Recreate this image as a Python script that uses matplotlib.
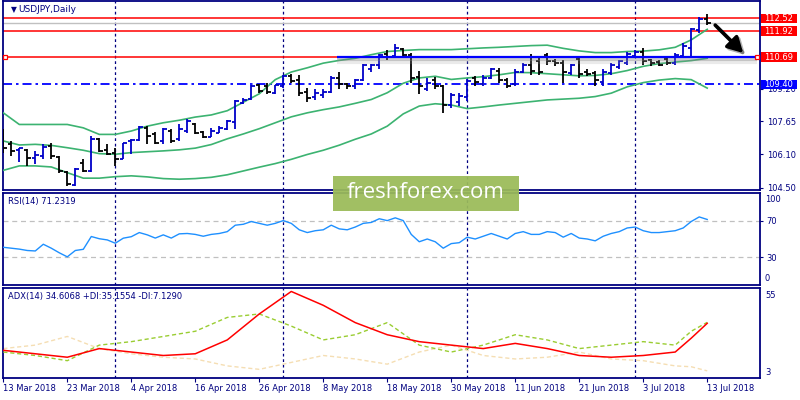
import numpy as np
import pandas as pd
import matplotlib
matplotlib.use("Agg")
import matplotlib.pyplot as plt
import matplotlib.patheffects as pe
from matplotlib.patches import Rectangle

plt.rcParams['font.family'] = ['DejaVu Sans']

# ---------------- data ----------------
dates = pd.bdate_range('2018-03-13', '2018-07-13')   # 89 daily bars

opens = [106.70, 106.59, 106.28, 106.28, 105.93, 106.01, 106.48, 105.98, 105.25, 104.63,
         105.70, 105.32, 106.80, 106.28, 106.17, 105.85, 106.72, 106.75, 107.34, 107.03,
         106.72, 107.19, 106.80, 107.19, 107.50, 107.15, 106.92, 107.10, 107.30, 107.60,
         108.50, 108.70, 109.35, 109.30, 109.00, 109.30, 109.80, 109.60, 109.05, 108.80,
         108.90, 109.05, 109.70, 109.40, 109.30, 109.60, 110.10, 110.30, 110.85, 110.75,
         111.05, 110.80, 109.75, 109.20, 109.60, 109.30, 108.40, 108.55, 108.80, 109.70,
         109.40, 109.70, 110.05, 109.60, 109.40, 110.00, 110.30, 110.50, 110.80, 110.50,
         110.40, 109.95, 110.60, 110.00, 109.95, 109.50, 109.95, 110.20, 110.40, 110.75,
         110.95, 110.55, 110.45, 110.60, 110.40, 110.75, 111.10, 111.95, 112.50]
highs = [107.30, 106.72, 106.40, 106.33, 106.25, 106.56, 106.61, 106.01, 105.30, 105.43,
         105.85, 106.95, 106.87, 106.56, 106.40, 106.64, 106.80, 107.42, 107.42, 107.16,
         107.34, 107.27, 107.50, 107.74, 107.58, 107.19, 107.32, 107.42, 107.71, 108.68,
         108.73, 109.39, 109.42, 109.47, 109.39, 109.86, 109.89, 109.86, 109.23, 109.16,
         109.16, 109.78, 110.00, 109.47, 109.63, 110.36, 110.36, 110.84, 111.00, 111.31,
         111.12, 110.88, 110.05, 109.70, 109.76, 109.39, 109.00, 109.00, 109.63, 109.78,
         109.86, 110.17, 110.15, 109.70, 110.10, 110.41, 110.81, 110.64, 110.88, 110.62,
         110.57, 110.38, 110.73, 110.10, 110.02, 110.10, 110.41, 110.57, 110.93, 111.04,
         111.12, 110.62, 110.57, 110.73, 110.88, 111.35, 112.06, 112.57, 112.72]
lows = [106.15, 106.01, 105.74, 105.54, 105.62, 105.85, 105.85, 105.22, 104.59, 104.59,
        105.27, 105.27, 106.21, 106.06, 105.54, 105.85, 106.09, 106.72, 106.56, 106.56,
        106.56, 106.64, 106.72, 107.11, 107.03, 106.84, 106.92, 107.08, 107.24, 107.27,
        108.45, 108.68, 109.00, 108.92, 108.95, 109.23, 109.47, 108.84, 108.57, 108.68,
        108.73, 109.00, 109.20, 109.16, 109.20, 109.55, 109.99, 110.10, 110.57, 110.73,
        110.73, 109.47, 108.92, 109.08, 109.20, 108.05, 108.29, 108.37, 108.60, 109.31,
        109.31, 109.63, 109.47, 109.23, 109.31, 109.94, 109.86, 109.86, 110.33, 110.25,
        109.47, 109.86, 109.70, 109.78, 109.31, 109.31, 109.86, 110.10, 110.33, 110.65,
        110.33, 110.25, 110.25, 110.33, 110.33, 110.65, 110.73, 111.83, 112.22]
closes = [106.40, 106.23, 106.37, 105.93, 106.04, 106.43, 106.01, 105.30, 104.67, 105.38,
          105.32, 106.83, 106.25, 106.09, 105.85, 106.61, 106.76, 107.38, 106.95, 106.64,
          107.27, 106.72, 107.27, 107.66, 107.11, 106.92, 107.20, 107.35, 107.65, 108.60,
          108.65, 109.30, 109.10, 109.05, 109.35, 109.80, 109.55, 109.00, 108.75, 109.00,
          109.05, 109.70, 109.40, 109.30, 109.60, 110.30, 110.30, 110.80, 110.70, 111.10,
          110.80, 109.70, 109.30, 109.45, 109.30, 108.40, 108.90, 108.85, 109.55, 109.50,
          109.70, 110.10, 109.60, 109.30, 110.00, 110.30, 110.05, 110.00, 110.50, 110.40,
          110.00, 110.30, 109.90, 109.90, 109.60, 110.00, 110.30, 110.50, 110.85, 110.95,
          110.50, 110.40, 110.30, 110.40, 110.80, 111.20, 112.00, 112.50, 112.28]

# Bollinger bands, read every second bar
band_idx = list(range(0, 89, 2))
bb_upper = [108.05, 107.50, 107.50, 107.50, 107.50, 107.34, 107.03, 107.03, 107.19, 107.42,
            107.58, 107.70, 107.85, 107.95, 108.15, 108.55, 108.95, 109.62, 109.98, 110.18,
            110.40, 110.53, 110.63, 110.80, 110.95, 111.00, 111.04, 111.04, 111.04, 111.08,
            111.12, 111.15, 111.19, 111.23, 111.25, 111.10, 110.98, 110.90, 110.90, 110.95,
            110.97, 111.03, 111.15, 111.50, 112.00]
bb_middle = [106.72, 106.53, 106.56, 106.51, 106.40, 106.28, 106.12, 106.09, 106.17, 106.21,
             106.25, 106.30, 106.38, 106.55, 106.82, 107.05, 107.30, 107.58, 107.86, 108.05,
             108.20, 108.33, 108.50, 108.68, 109.00, 109.45, 109.70, 109.78, 109.63, 109.70,
             109.76, 109.85, 109.96, 109.95, 109.90, 109.85, 109.80, 109.82, 109.90, 110.05,
             110.25, 110.38, 110.45, 110.52, 110.63]
bb_lower = [105.33, 105.54, 105.54, 105.49, 105.22, 104.96, 104.96, 105.03, 105.07, 105.02,
            104.94, 104.91, 104.94, 105.00, 105.12, 105.30, 105.48, 105.65, 105.85, 106.08,
            106.28, 106.52, 106.80, 107.05, 107.42, 108.00, 108.37, 108.48, 108.42, 108.25,
            108.33, 108.42, 108.50, 108.58, 108.66, 108.70, 108.74, 108.82, 108.98, 109.28,
            109.48, 109.60, 109.67, 109.62, 109.22]

rsi = [41, 40, 39, 37.5, 37, 44.3, 40, 35, 30.6, 37.5,
       38.8, 52.7, 50.3, 49, 45.4, 50.9, 52.5, 57, 54.5, 51,
       54.5, 51, 55.6, 56, 55, 53, 55, 56, 58, 65,
       66, 69, 67, 65, 67, 70, 67, 60, 57, 59,
       60, 65, 61, 60, 63, 67, 68, 72, 70, 73,
       70, 55, 47, 50, 47, 40, 45, 46, 52, 50,
       53, 56, 53, 50, 56, 58, 55, 55, 58, 57,
       52, 56, 51, 50, 48, 53, 56, 58, 62, 63,
       59, 57, 57, 58, 59, 62, 69, 74, 71.2319]

adx_idx = list(range(0, 85, 4)) + [86, 88]
adx = [19, 17, 15, 20, 18, 16, 17, 25, 40, 53, 45, 35, 28, 24, 22, 20, 23, 20, 16, 15, 16, 18, 26, 34.6068]
plus_di = [18, 16, 13, 22, 24, 27, 30, 38, 40, 33, 25, 28, 35, 22, 18, 22, 28, 25, 20, 22, 24, 22, 30, 35.1554]
minus_di = [20, 22, 27, 20, 17, 15, 14, 10, 8, 12, 16, 14, 11, 18, 22, 16, 14, 15, 18, 14, 13, 10, 9.5, 7.1290]

levels_red = [112.52, 111.92, 110.69]
level_blue = 109.40
price_ticks = [104.50, 106.10, 107.65, 109.20]

# ---------------- figure ----------------
W, H = 800, 400
NAVY = '#000080'
fig = plt.figure(figsize=(8, 4), dpi=100)
fig.patch.set_facecolor('white')

L, R = 2.5, 760
def axrect(top, bottom):
    return [L / W, 1 - bottom / H, (R - L) / W, (bottom - top) / H]

ax = fig.add_axes(axrect(1, 190))
ax_rsi = fig.add_axes(axrect(193, 285))
ax_adx = fig.add_axes(axrect(288, 378))

n = len(closes)
x = np.arange(n)
xlim = (-0.1, 94.6)

for a in (ax, ax_rsi, ax_adx):
    a.set_xlim(*xlim)
    for s in a.spines.values():
        s.set_color(NAVY)
        s.set_linewidth(1.3)
    a.tick_params(axis='both', colors=NAVY, labelcolor=NAVY, labelsize=6, length=2.5, width=0.8)
    a.yaxis.tick_right()
    # month separators
    months = dates.month
    for i in range(1, n):
        if months[i] != months[i - 1]:
            a.axvline(i, color=NAVY, lw=0.9, ls=(0, (2.2, 2.2)), zorder=1)

# ---- main price panel ----
ax.set_ylim(104.40, 113.34)
o = np.array(opens); h = np.array(highs); l = np.array(lows); c = np.array(closes)
cols = np.where(c >= o, '#0000C8', '#000000')
ax.vlines(x, l, h, colors=cols, lw=1.3, zorder=4)
ax.hlines(o, x - 0.42, x, colors=cols, lw=1.3, zorder=4)
ax.hlines(c, x, x + 0.42, colors=cols, lw=1.3, zorder=4)

for arr in (bb_upper, bb_middle, bb_lower):
    ax.plot(band_idx, arr, color='#3CB371', lw=1.2, zorder=3)

for lv in levels_red:
    ax.axhline(lv, color='#FF0000', lw=1.1, zorder=2)
ax.axhline(closes[-1], color='#C0C0C0', lw=1.0, zorder=1.5)
ax.axhline(level_blue, color='#0000FF', lw=1.3, ls=(0, (5, 2.2, 1.4, 2.2)), zorder=2)

# highlighted segment of the 110.69 level with shadow
seg_x = [41.75, 94.25]
ax.plot(seg_x, [levels_red[2]] * 2, color='#0000FF', lw=1.6, zorder=5, solid_capstyle='butt',
        path_effects=[pe.SimpleLineShadow(offset=(0, -1.5), shadow_color='#777777', alpha=0.35, linewidth=3),
                      pe.SimpleLineShadow(offset=(0, -3.5), shadow_color='#999999', alpha=0.2, linewidth=3),
                      pe.Normal()])
ax.plot([0.25, 94.25], [levels_red[2]] * 2, ls='none', marker='s', ms=3.5,
        mfc='white', mec='#FF0000', mew=0.9, zorder=6, clip_on=False)

# arrow
ax.annotate('', xy=(92.5, 110.88), xytext=(89.0, 112.20),
            arrowprops=dict(arrowstyle='-|>,head_length=0.9,head_width=0.5', lw=2.6,
                            color='black', mutation_scale=10, shrinkA=0, shrinkB=0,
                            path_effects=[pe.SimpleLineShadow(offset=(1.5, -1.5), alpha=0.3), pe.Normal()]),
            zorder=7)

ax.set_yticks(price_ticks)
ax.set_yticklabels([f'{t:.2f}' for t in price_ticks])
ax.tick_params(axis='y', pad=2.3)
ax.tick_params(axis='x', bottom=False, labelbottom=False)

ax.text(8 / (R - L), 1 - 9 / 189, '\u25BC', transform=ax.transAxes, fontsize=5.5,
        color=NAVY, va='center', ha='left')
ax.text(16 / (R - L), 1 - 9 / 189, 'USDJPY,Daily', transform=ax.transAxes, fontsize=6.5,
        color=NAVY, va='center', ha='left')

# ---- RSI panel ----
ax_rsi.set_ylim(0, 100)
ax_rsi.plot(x, rsi, color='#1E90FF', lw=1.0, zorder=3)
for lv in (70, 30):
    ax_rsi.axhline(lv, color='#C0C0C0', lw=0.9, ls=(0, (4, 3)), zorder=1)
ax_rsi.set_yticks([70, 30])
ax_rsi.set_yticklabels(['70', '30'])
ax_rsi.tick_params(axis='y', pad=2.3)
ax_rsi.tick_params(axis='x', bottom=False, labelbottom=False)
ax_rsi.text(1.0066, 0.93, '100', transform=ax_rsi.transAxes, fontsize=6, color=NAVY, va='center', ha='left')
ax_rsi.text(1.0066, 0.076, '0', transform=ax_rsi.transAxes, fontsize=6, color=NAVY, va='center', ha='left')
ax_rsi.text(5 / (R - L), 1 - 8 / 92, f'RSI(14) {rsi[-1]:.4f}', transform=ax_rsi.transAxes,
            fontsize=6, color=NAVY, va='center', ha='left')

# ---- ADX panel ----
ax_adx.set_ylim(3, 55)
ax_adx.plot(adx_idx, adx, color='#FF0000', lw=1.1, zorder=4)
ax_adx.plot(adx_idx, plus_di, color='#9ACD32', lw=1.0, ls=(0, (3, 2)), zorder=3)
ax_adx.plot(adx_idx, minus_di, color='#F5DEB3', lw=1.0, ls=(0, (3, 2)), zorder=2)
ax_adx.set_yticks([])
ax_adx.text(1.0066, 0.922, '55', transform=ax_adx.transAxes, fontsize=6, color=NAVY, va='center', ha='left')
ax_adx.text(1.0066, 0.056, '3', transform=ax_adx.transAxes, fontsize=6, color=NAVY, va='center', ha='left')
ax_adx.text(5 / (R - L), 1 - 8 / 90,
            f'ADX(14) {adx[-1]:.4f} +DI:{plus_di[-1]:.4f} -DI:{minus_di[-1]:.4f}',
            transform=ax_adx.transAxes, fontsize=6, color=NAVY, va='center', ha='left')

tick_pos = list(range(0, n, 8))
tick_labels = [f'{dates[i].day} {dates[i].strftime("%b %Y")}' for i in tick_pos]
ax_adx.set_xticks(tick_pos)
ax_adx.set_xticklabels(tick_labels)
ax_adx.tick_params(axis='x', length=3, pad=1.5)
for t in ax_adx.get_xticklabels():
    t.set_ha('left')

# ---- price label boxes at the right ----
fig.canvas.draw()
def add_box(level, color):
    _, ypix = ax.transData.transform((0, level))
    yc = ypix
    fig.patches.append(Rectangle((761 / W, (yc - 4.6) / H), 36 / W, 9.2 / H, transform=fig.transFigure,
                                 facecolor=color, edgecolor='none', zorder=5))
    fig.text(764 / W, yc / H, f'{level:.2f}', color='white', fontsize=6, va='center', ha='left', zorder=6)

for lv in levels_red:
    add_box(lv, '#FF0000')
add_box(level_blue, '#0000FF')

# ---- watermark ----
fig.patches.append(Rectangle((333 / W, 1 - 211 / H), 186 / W, 35 / H, transform=fig.transFigure,
                             facecolor='#9BBB59', edgecolor='none', alpha=0.94, zorder=8))
fig.text(426 / W, 1 - 193 / H, 'freshforex.com', color='white', fontsize=16,
         family='Open Sans', va='center', ha='center', zorder=9)

fig.savefig('out.png', dpi=100, facecolor='white')
